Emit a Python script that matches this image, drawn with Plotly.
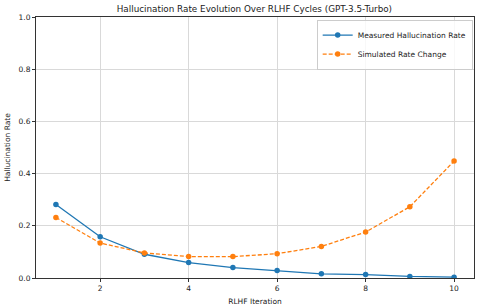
import plotly.graph_objects as go

iterations = [1, 2, 3, 4, 5, 6, 7, 8, 9, 10]
measured = [0.282, 0.158, 0.091, 0.059, 0.040, 0.029, 0.016, 0.013, 0.006, 0.003]
simulated = [0.232, 0.134, 0.096, 0.082, 0.082, 0.093, 0.121, 0.176, 0.273, 0.448]
x_ticks = [2, 4, 6, 8, 10]
y_ticks = [0.0, 0.2, 0.4, 0.6, 0.8, 1.0]
y_tick_labels = ["0.0", "0.2", "0.4", "0.6", "0.8", "1.0"]

FONT = "DejaVu Sans"
fig = go.Figure()
fig.add_trace(go.Scatter(
    x=iterations, y=measured, mode="lines+markers", name="Measured Hallucination Rate",
    line=dict(color="#1f77b4", width=1.3), marker=dict(color="#1f77b4", size=5.5)))
fig.add_trace(go.Scatter(
    x=iterations, y=simulated, mode="lines+markers", name="Simulated Rate Change",
    line=dict(color="#ff7f0e", width=1.3, dash="4px,2px"), marker=dict(color="#ff7f0e", size=5.5)))

axis_common = dict(showline=True, linecolor="#333333", linewidth=1, mirror=True,
                   ticks="outside", ticklen=3, tickcolor="#333333", automargin=False,
                   showgrid=True, gridcolor="#d9d9d9", gridwidth=1, zeroline=False,
                   tickfont=dict(family=FONT, size=7.5, color="#222222"))
fig.update_layout(
    width=480, height=307,
    margin=dict(l=36, r=6, t=17, b=29),
    paper_bgcolor="white", plot_bgcolor="white",
    font=dict(family=FONT, size=7.5, color="#222222"),
    title=dict(text="Hallucination Rate Evolution Over RLHF Cycles (GPT-3.5-Turbo)",
               x=0.53, xanchor="center", y=0.972, yanchor="middle",
               font=dict(family=FONT, size=8.8, color="#222222")),
    xaxis=dict(range=[0.55, 10.45], tickvals=x_ticks,
               title=dict(text="RLHF Iteration", standoff=6, font=dict(family=FONT, size=7.5)),
               **axis_common),
    yaxis=dict(range=[0, 1.0], tickvals=y_ticks, ticktext=y_tick_labels,
               title=dict(text="Hallucination Rate", standoff=6, font=dict(family=FONT, size=7.5)),
               **axis_common),
    legend=dict(x=0.997, y=0.99, xanchor="right", yanchor="top",
                bgcolor="rgba(255,255,255,0.8)", bordercolor="#cccccc", borderwidth=1,
                font=dict(family=FONT, size=7.5), tracegroupgap=0, itemwidth=30),
    showlegend=True,
)
fig.write_html("out.html", config={"displayModeBar": False},
               post_script="document.body.style.margin='0';document.body.style.overflow='hidden';")
